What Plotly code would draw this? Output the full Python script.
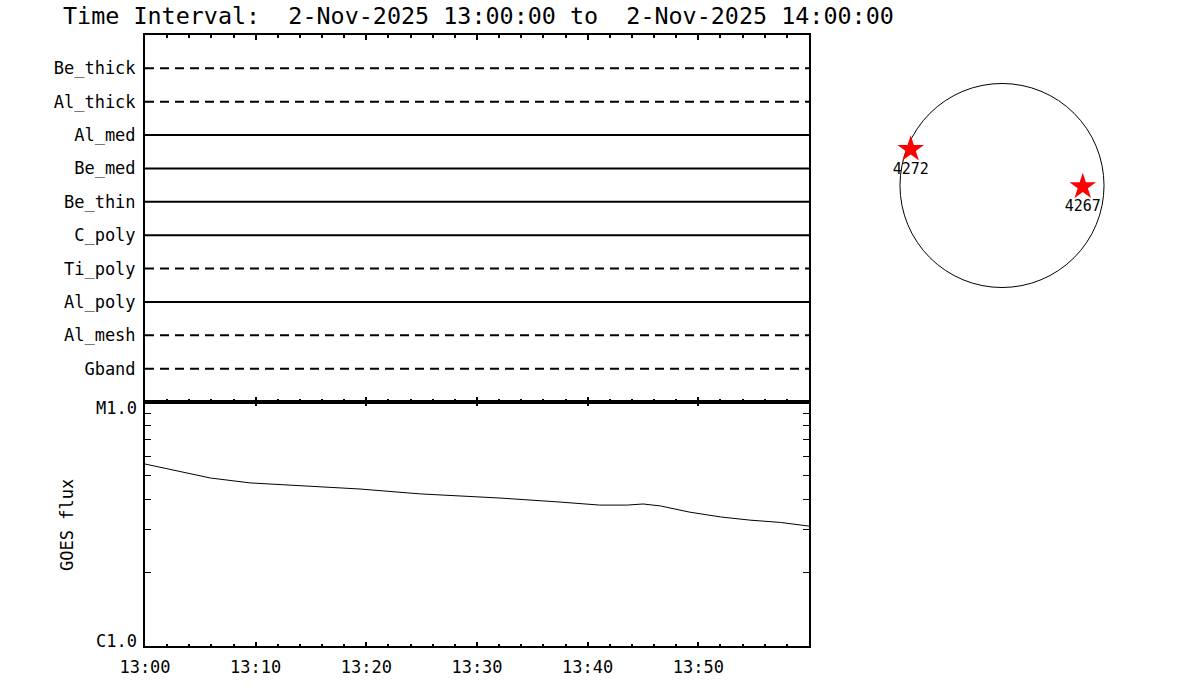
import math
import plotly.graph_objects as go

# ---------------- data ----------------
DATE = "2025-11-02"
T_START = "13:00:00"
T_END = "14:00:00"

channels = ["Be_thick", "Al_thick", "Al_med", "Be_med", "Be_thin",
            "C_poly", "Ti_poly", "Al_poly", "Al_mesh", "Gband"]
channel_level = [10, 9, 8, 7, 6, 5, 4, 3, 2, 1]
channel_dashed = [True, True, False, False, False, False, True, False, True, True]

major_times = ["13:00", "13:10", "13:20", "13:30", "13:40", "13:50"]

goes_time = ["13:00:00", "13:02:40", "13:05:55", "13:09:30", "13:14:00", "13:19:25",
             "13:24:55", "13:32:05", "13:37:30", "13:41:05", "13:43:35", "13:45:00",
             "13:46:35", "13:49:10", "13:52:00", "13:54:40", "13:57:25", "14:00:00"]
goes_flux = [5.57e-6, 5.26e-6, 4.88e-6, 4.66e-6, 4.53e-6, 4.40e-6,
             4.20e-6, 4.04e-6, 3.89e-6, 3.78e-6, 3.78e-6, 3.82e-6,
             3.75e-6, 3.54e-6, 3.38e-6, 3.28e-6, 3.21e-6, 3.10e-6]

goes_tickvals = [1e-5, 1e-6]
goes_ticktext = ["M1.0", "C1.0"]
goes_minor = [2e-6, 3e-6, 4e-6, 5e-6, 6e-6, 7e-6, 8e-6, 9e-6]

ar_names = ["4272", "4267"]
ar_x = [-859, 760]     # arcsec
ar_y = [341, -11]      # arcsec
R_SUN = 960

TITLE = "Time Interval:  2-Nov-2025 13:00:00 to  2-Nov-2025 14:00:00"

# ---------------- figure ----------------
FONT = "DejaVu Sans Mono"
W, H = 1200, 700


def px_x(px):
    return px / W


def px_y(py):
    return (H - py) / H


t0 = f"{DATE} {T_START}"
t1 = f"{DATE} {T_END}"
tickvals_t = [f"{DATE} {t}:00" for t in major_times]

fig = go.Figure()

for name, lvl, dashed in zip(channels, channel_level, channel_dashed):
    fig.add_trace(go.Scatter(
        x=[t0, t1], y=[lvl, lvl], mode="lines", name=name,
        line=dict(color="black", width=2, dash="9px,6px" if dashed else "solid"),
        xaxis="x", yaxis="y", showlegend=False, hoverinfo="skip"))

fig.add_trace(go.Scatter(
    x=[f"{DATE} {t}" for t in goes_time], y=goes_flux, mode="lines",
    line=dict(color="black", width=1), xaxis="x2", yaxis="y2", showlegend=False))

fig.add_trace(go.Scatter(
    x=ar_x, y=ar_y, mode="markers+text", text=ar_names, textposition="bottom center",
    textfont=dict(family=FONT, size=15, color="black"),
    marker=dict(symbol="star", size=20, color="red", line=dict(width=0)),
    xaxis="x3", yaxis="y3", showlegend=False))

xdom = [px_x(145), px_x(809)]
axis_common = dict(showgrid=False, zeroline=False, showline=True, linecolor="black",
                   linewidth=2)

fig.update_layout(
    width=W, height=H, margin=dict(l=0, r=0, t=0, b=0),
    template="none", paper_bgcolor="white", plot_bgcolor="white",
    font=dict(family=FONT, color="black"),
    xaxis=dict(domain=xdom, anchor="y", type="date", range=[t0, t1],
               tickmode="array", tickvals=tickvals_t, showticklabels=False,
               ticks="inside", ticklen=5, tickwidth=2, tickcolor="black",
               mirror="ticks",
               minor=dict(dtick=120000, tick0=t0, ticks="inside", ticklen=3,
                          tickwidth=2, tickcolor="black"),
               **axis_common),
    yaxis=dict(domain=[px_y(402), px_y(35)], anchor="x", range=[0, 11],
               tickmode="array", tickvals=channel_level, ticktext=channels,
               ticks="", mirror=True, tickfont=dict(size=17), ticklabelstandoff=4,
               **axis_common),
    xaxis2=dict(domain=xdom, anchor="y2", type="date", range=[t0, t1],
                tickmode="array", tickvals=tickvals_t, tickformat="%H:%M",
                ticks="inside", ticklen=4, tickwidth=2, tickcolor="black",
                mirror="ticks", tickfont=dict(size=17), ticklabelstandoff=5,
                minor=dict(dtick=120000, tick0=t0, ticks="inside", ticklen=2,
                           tickwidth=2, tickcolor="black"),
                **axis_common),
    yaxis2=dict(domain=[px_y(646), px_y(402)], anchor="x2", type="log",
                range=[-6, -5], tickmode="array", tickvals=goes_tickvals,
                showticklabels=False, ticks="inside", ticklen=6, tickwidth=1,
                tickcolor="black", mirror="ticks",
                minor=dict(tickmode="array", tickvals=goes_minor, ticks="inside",
                           ticklen=6, tickwidth=1, tickcolor="black"),
                **axis_common),
    xaxis3=dict(domain=[px_x(880), px_x(1124)], anchor="y3", range=[-1148, 1148],
                visible=False),
    yaxis3=dict(domain=[px_y(307.5), px_y(63.5)], anchor="x3",
                range=[-1148, 1148], visible=False),
)

# GOES class labels, sitting just inside the panel ends as in the original
for val, txt, shift in zip(goes_tickvals, goes_ticktext, [-6, 5]):
    fig.add_annotation(text=txt, xref="x2 domain", yref="y2", x=0, y=math.log10(val),
                       xanchor="right", yanchor="middle", xshift=-6, yshift=shift,
                       showarrow=False, font=dict(family=FONT, size=17, color="black"))

fig.add_shape(type="circle", xref="x3", yref="y3", x0=-R_SUN, x1=R_SUN,
              y0=-R_SUN, y1=R_SUN, line=dict(color="black", width=1), layer="below")

fig.add_annotation(text=TITLE, xref="paper", yref="paper", x=px_x(61), y=px_y(16),
                   xanchor="left", yanchor="middle", showarrow=False,
                   font=dict(family=FONT, size=23.4, color="black"))
fig.add_annotation(text="GOES flux", xref="paper", yref="paper", x=px_x(67),
                   y=px_y(525), xanchor="center", yanchor="middle",
                   textangle=-90, showarrow=False,
                   font=dict(family=FONT, size=17, color="black"))

fig.write_html("out.html",
               config={"displayModeBar": False},
               post_script="document.body.style.margin='0px';"
                           "document.body.style.overflow='hidden';")
